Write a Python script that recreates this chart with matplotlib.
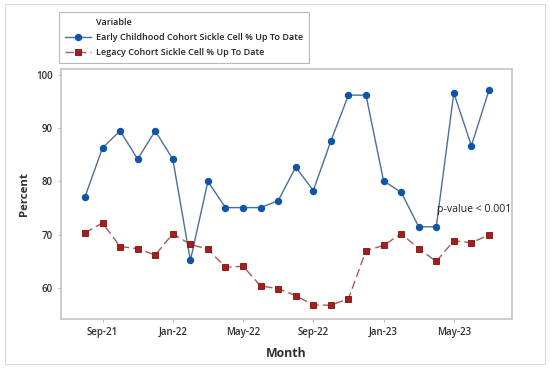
import matplotlib
matplotlib.use('Agg')
import matplotlib.pyplot as plt
from matplotlib.lines import Line2D
from matplotlib.patches import Rectangle

plt.rcParams['font.family'] = ['Open Sans', 'DejaVu Sans']

months = ['Aug-21', 'Sep-21', 'Oct-21', 'Nov-21', 'Dec-21', 'Jan-22', 'Feb-22', 'Mar-22',
          'Apr-22', 'May-22', 'Jun-22', 'Jul-22', 'Aug-22', 'Sep-22', 'Oct-22', 'Nov-22',
          'Dec-22', 'Jan-23', 'Feb-23', 'Mar-23', 'Apr-23', 'May-23', 'Jun-23', 'Jul-23']
early = [77.1, 86.3, 89.5, 84.2, 89.5, 84.2, 65.2, 80.0, 75.1, 75.1, 75.1, 76.4,
         82.7, 78.3, 87.6, 96.2, 96.2, 80.1, 78.0, 71.5, 71.5, 96.6, 86.7, 97.1]
legacy = [70.4, 72.2, 67.8, 67.4, 66.2, 70.2, 68.2, 67.3, 63.9, 64.1, 60.4, 59.9,
          58.6, 56.8, 56.8, 58.0, 67.0, 68.0, 70.2, 67.4, 65.0, 68.9, 68.5, 70.0]
tick_months = ['Sep-21', 'Jan-22', 'May-22', 'Sep-22', 'Jan-23', 'May-23']
yticks = [60, 70, 80, 90, 100]

early_label = 'Early Childhood Cohort Sickle Cell % Up To Date'
legacy_label = 'Legacy Cohort Sickle Cell % Up To Date'

x = list(range(len(months)))

fig = plt.figure(figsize=(5.5, 3.7), dpi=100)
ax = fig.add_axes([0.1104, 0.1378, 0.8211, 0.6757])

blue_line = dict(color='#4d6e9c', linewidth=1.0, marker='o', markersize=4.3,
                 markerfacecolor='#0c55a8', markeredgecolor='#0c55a8')
red_line = dict(color='#a85a5a', linewidth=1.0, linestyle=(0, (6, 3)), marker='s',
                markersize=4.0, markerfacecolor='#a81c1c', markeredgecolor='#7a1010',
                markeredgewidth=0.6)

ax.plot(x, early, **blue_line)
ax.plot(x, legacy, **red_line)

ax.text(20.05, 74.7, 'p-value < 0.001', fontsize=7.6, va='center', ha='left', color='#202020')

ax.set_xlim(-1.38, 24.33)
ax.set_ylim(54.2, 101.1)
ax.set_xticks([months.index(m) for m in tick_months])
ax.set_xticklabels(tick_months)
ax.set_yticks(yticks)
for lab in ax.get_xticklabels() + ax.get_yticklabels():
    lab.set_fontweight('semibold')
ax.tick_params(axis='both', labelsize=7, length=2.5, width=0.6, color='#b0b0b0',
               labelcolor='#303030', pad=3)

ax.set_xlabel('Month', fontsize=8.8, fontweight='bold', color='#303030', labelpad=7)
ax.set_ylabel('Percent', fontsize=8.2, fontweight='bold', color='#303030', labelpad=5)

for s in ax.spines.values():
    s.set_color('#c4c4c4')
    s.set_linewidth(1.2)

# legend box with "Variable" header lined up with the entries
handles = [Line2D([], [], linestyle='none'), Line2D([], [], **blue_line), Line2D([], [], **red_line)]
leg = fig.legend(handles, ['Variable', early_label, legacy_label], loc='upper left',
                 bbox_to_anchor=(59 / 550, 1 - 12 / 370), borderaxespad=0,
                 fontsize=6.5, frameon=True, fancybox=False, handlelength=2.8,
                 handletextpad=0.6, labelspacing=0.65, borderpad=0.7)
leg.get_frame().set_edgecolor('#a8a8a8')
leg.get_frame().set_linewidth(0.8)
for t in leg.get_texts():
    t.set_fontweight('semibold')
    t.set_color('#202020')

# thin grey border round the whole picture
fig.patches.append(Rectangle((5 / 550, 6 / 370), 540 / 550, 360 / 370, transform=fig.transFigure,
                             fill=False, edgecolor='#dadada', linewidth=0.8))

fig.savefig('out.png', dpi=100)
